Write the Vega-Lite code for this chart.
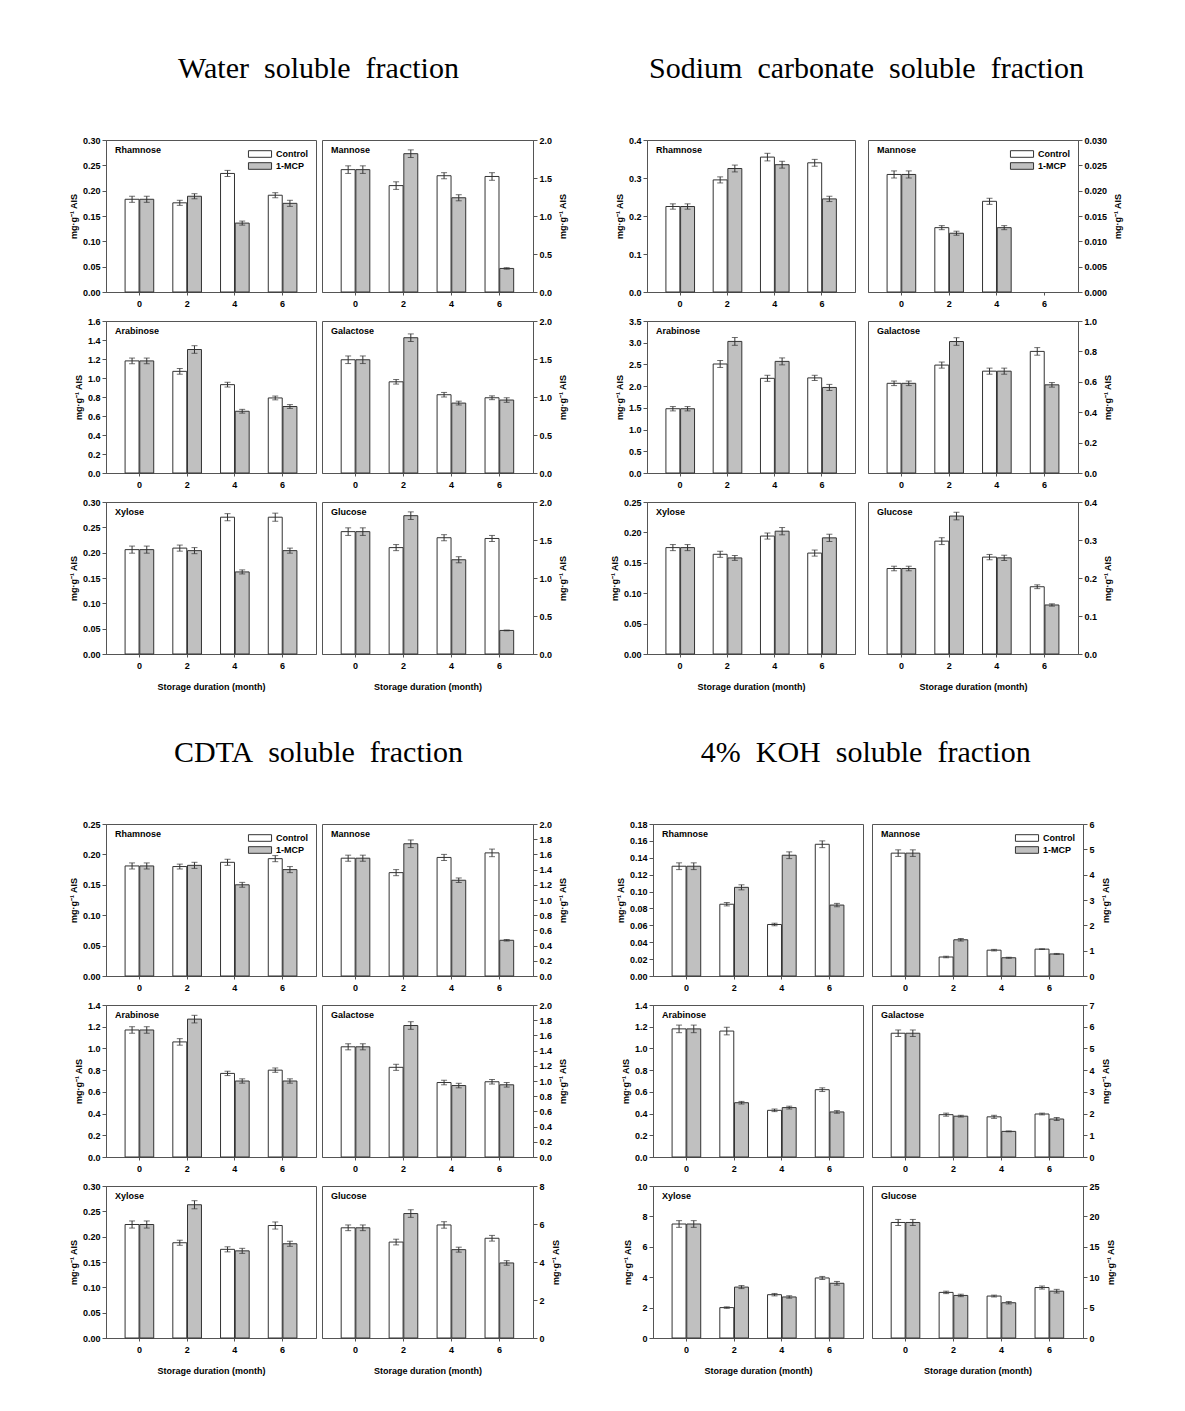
{
"$schema":"https://vega.github.io/schema/vega-lite/v6.json",
"background":"white",
"padding":{"left":68,"top":53,"right":5,"bottom":5},
"data":{"name":"d","values":[
{"f":"W","s":"Rhamnose","m":"0","t":"Control","v":0.183,"lo":0.177,"hi":0.189},
{"f":"W","s":"Rhamnose","m":"0","t":"1-MCP","v":0.183,"lo":0.177,"hi":0.189},
{"f":"W","s":"Rhamnose","m":"2","t":"Control","v":0.176,"lo":0.171,"hi":0.181},
{"f":"W","s":"Rhamnose","m":"2","t":"1-MCP","v":0.189,"lo":0.184,"hi":0.194},
{"f":"W","s":"Rhamnose","m":"4","t":"Control","v":0.234,"lo":0.228,"hi":0.240},
{"f":"W","s":"Rhamnose","m":"4","t":"1-MCP","v":0.136,"lo":0.132,"hi":0.140},
{"f":"W","s":"Rhamnose","m":"6","t":"Control","v":0.191,"lo":0.186,"hi":0.196},
{"f":"W","s":"Rhamnose","m":"6","t":"1-MCP","v":0.175,"lo":0.169,"hi":0.181},
{"f":"W","s":"Mannose","m":"0","t":"Control","v":1.61,"lo":1.56,"hi":1.66},
{"f":"W","s":"Mannose","m":"0","t":"1-MCP","v":1.61,"lo":1.56,"hi":1.66},
{"f":"W","s":"Mannose","m":"2","t":"Control","v":1.40,"lo":1.35,"hi":1.45},
{"f":"W","s":"Mannose","m":"2","t":"1-MCP","v":1.82,"lo":1.77,"hi":1.87},
{"f":"W","s":"Mannose","m":"4","t":"Control","v":1.53,"lo":1.49,"hi":1.57},
{"f":"W","s":"Mannose","m":"4","t":"1-MCP","v":1.24,"lo":1.20,"hi":1.28},
{"f":"W","s":"Mannose","m":"6","t":"Control","v":1.52,"lo":1.47,"hi":1.57},
{"f":"W","s":"Mannose","m":"6","t":"1-MCP","v":0.31,"lo":0.30,"hi":0.32},
{"f":"W","s":"Arabinose","m":"0","t":"Control","v":1.18,"lo":1.15,"hi":1.21},
{"f":"W","s":"Arabinose","m":"0","t":"1-MCP","v":1.18,"lo":1.15,"hi":1.21},
{"f":"W","s":"Arabinose","m":"2","t":"Control","v":1.07,"lo":1.04,"hi":1.10},
{"f":"W","s":"Arabinose","m":"2","t":"1-MCP","v":1.30,"lo":1.26,"hi":1.34},
{"f":"W","s":"Arabinose","m":"4","t":"Control","v":0.93,"lo":0.905,"hi":0.955},
{"f":"W","s":"Arabinose","m":"4","t":"1-MCP","v":0.65,"lo":0.63,"hi":0.67},
{"f":"W","s":"Arabinose","m":"6","t":"Control","v":0.79,"lo":0.77,"hi":0.81},
{"f":"W","s":"Arabinose","m":"6","t":"1-MCP","v":0.70,"lo":0.68,"hi":0.72},
{"f":"W","s":"Galactose","m":"0","t":"Control","v":1.49,"lo":1.44,"hi":1.54},
{"f":"W","s":"Galactose","m":"0","t":"1-MCP","v":1.49,"lo":1.44,"hi":1.54},
{"f":"W","s":"Galactose","m":"2","t":"Control","v":1.20,"lo":1.17,"hi":1.23},
{"f":"W","s":"Galactose","m":"2","t":"1-MCP","v":1.78,"lo":1.73,"hi":1.83},
{"f":"W","s":"Galactose","m":"4","t":"Control","v":1.03,"lo":1.00,"hi":1.06},
{"f":"W","s":"Galactose","m":"4","t":"1-MCP","v":0.92,"lo":0.895,"hi":0.945},
{"f":"W","s":"Galactose","m":"6","t":"Control","v":0.99,"lo":0.965,"hi":1.015},
{"f":"W","s":"Galactose","m":"6","t":"1-MCP","v":0.96,"lo":0.93,"hi":0.99},
{"f":"W","s":"Xylose","m":"0","t":"Control","v":0.206,"lo":0.199,"hi":0.213},
{"f":"W","s":"Xylose","m":"0","t":"1-MCP","v":0.206,"lo":0.199,"hi":0.213},
{"f":"W","s":"Xylose","m":"2","t":"Control","v":0.209,"lo":0.203,"hi":0.215},
{"f":"W","s":"Xylose","m":"2","t":"1-MCP","v":0.204,"lo":0.198,"hi":0.210},
{"f":"W","s":"Xylose","m":"4","t":"Control","v":0.270,"lo":0.263,"hi":0.277},
{"f":"W","s":"Xylose","m":"4","t":"1-MCP","v":0.162,"lo":0.158,"hi":0.166},
{"f":"W","s":"Xylose","m":"6","t":"Control","v":0.270,"lo":0.262,"hi":0.278},
{"f":"W","s":"Xylose","m":"6","t":"1-MCP","v":0.204,"lo":0.199,"hi":0.209},
{"f":"W","s":"Glucose","m":"0","t":"Control","v":1.61,"lo":1.56,"hi":1.66},
{"f":"W","s":"Glucose","m":"0","t":"1-MCP","v":1.61,"lo":1.56,"hi":1.66},
{"f":"W","s":"Glucose","m":"2","t":"Control","v":1.40,"lo":1.36,"hi":1.44},
{"f":"W","s":"Glucose","m":"2","t":"1-MCP","v":1.82,"lo":1.77,"hi":1.87},
{"f":"W","s":"Glucose","m":"4","t":"Control","v":1.53,"lo":1.49,"hi":1.57},
{"f":"W","s":"Glucose","m":"4","t":"1-MCP","v":1.24,"lo":1.20,"hi":1.28},
{"f":"W","s":"Glucose","m":"6","t":"Control","v":1.52,"lo":1.48,"hi":1.56},
{"f":"W","s":"Glucose","m":"6","t":"1-MCP","v":0.31,"lo":0.305,"hi":0.315},
{"f":"S","s":"Rhamnose","m":"0","t":"Control","v":0.225,"lo":0.218,"hi":0.232},
{"f":"S","s":"Rhamnose","m":"0","t":"1-MCP","v":0.225,"lo":0.218,"hi":0.232},
{"f":"S","s":"Rhamnose","m":"2","t":"Control","v":0.295,"lo":0.287,"hi":0.303},
{"f":"S","s":"Rhamnose","m":"2","t":"1-MCP","v":0.325,"lo":0.316,"hi":0.334},
{"f":"S","s":"Rhamnose","m":"4","t":"Control","v":0.355,"lo":0.345,"hi":0.365},
{"f":"S","s":"Rhamnose","m":"4","t":"1-MCP","v":0.335,"lo":0.326,"hi":0.344},
{"f":"S","s":"Rhamnose","m":"6","t":"Control","v":0.340,"lo":0.331,"hi":0.349},
{"f":"S","s":"Rhamnose","m":"6","t":"1-MCP","v":0.245,"lo":0.238,"hi":0.252},
{"f":"S","s":"Mannose","m":"0","t":"Control","v":0.0232,"lo":0.0225,"hi":0.0239},
{"f":"S","s":"Mannose","m":"0","t":"1-MCP","v":0.0232,"lo":0.0225,"hi":0.0239},
{"f":"S","s":"Mannose","m":"2","t":"Control","v":0.0127,"lo":0.0123,"hi":0.0131},
{"f":"S","s":"Mannose","m":"2","t":"1-MCP","v":0.0116,"lo":0.0112,"hi":0.0120},
{"f":"S","s":"Mannose","m":"4","t":"Control","v":0.0179,"lo":0.0173,"hi":0.0185},
{"f":"S","s":"Mannose","m":"4","t":"1-MCP","v":0.0127,"lo":0.0123,"hi":0.0131},
{"f":"S","s":"Arabinose","m":"0","t":"Control","v":1.48,"lo":1.43,"hi":1.53},
{"f":"S","s":"Arabinose","m":"0","t":"1-MCP","v":1.48,"lo":1.43,"hi":1.53},
{"f":"S","s":"Arabinose","m":"2","t":"Control","v":2.51,"lo":2.43,"hi":2.59},
{"f":"S","s":"Arabinose","m":"2","t":"1-MCP","v":3.03,"lo":2.94,"hi":3.12},
{"f":"S","s":"Arabinose","m":"4","t":"Control","v":2.18,"lo":2.11,"hi":2.25},
{"f":"S","s":"Arabinose","m":"4","t":"1-MCP","v":2.57,"lo":2.49,"hi":2.65},
{"f":"S","s":"Arabinose","m":"6","t":"Control","v":2.19,"lo":2.13,"hi":2.25},
{"f":"S","s":"Arabinose","m":"6","t":"1-MCP","v":1.97,"lo":1.90,"hi":2.04},
{"f":"S","s":"Galactose","m":"0","t":"Control","v":0.59,"lo":0.575,"hi":0.605},
{"f":"S","s":"Galactose","m":"0","t":"1-MCP","v":0.59,"lo":0.575,"hi":0.605},
{"f":"S","s":"Galactose","m":"2","t":"Control","v":0.71,"lo":0.69,"hi":0.73},
{"f":"S","s":"Galactose","m":"2","t":"1-MCP","v":0.865,"lo":0.84,"hi":0.89},
{"f":"S","s":"Galactose","m":"4","t":"Control","v":0.67,"lo":0.65,"hi":0.69},
{"f":"S","s":"Galactose","m":"4","t":"1-MCP","v":0.67,"lo":0.65,"hi":0.69},
{"f":"S","s":"Galactose","m":"6","t":"Control","v":0.80,"lo":0.775,"hi":0.825},
{"f":"S","s":"Galactose","m":"6","t":"1-MCP","v":0.58,"lo":0.565,"hi":0.595},
{"f":"S","s":"Xylose","m":"0","t":"Control","v":0.175,"lo":0.170,"hi":0.180},
{"f":"S","s":"Xylose","m":"0","t":"1-MCP","v":0.175,"lo":0.170,"hi":0.180},
{"f":"S","s":"Xylose","m":"2","t":"Control","v":0.164,"lo":0.159,"hi":0.169},
{"f":"S","s":"Xylose","m":"2","t":"1-MCP","v":0.158,"lo":0.154,"hi":0.162},
{"f":"S","s":"Xylose","m":"4","t":"Control","v":0.194,"lo":0.189,"hi":0.199},
{"f":"S","s":"Xylose","m":"4","t":"1-MCP","v":0.202,"lo":0.196,"hi":0.208},
{"f":"S","s":"Xylose","m":"6","t":"Control","v":0.166,"lo":0.161,"hi":0.171},
{"f":"S","s":"Xylose","m":"6","t":"1-MCP","v":0.191,"lo":0.185,"hi":0.197},
{"f":"S","s":"Glucose","m":"0","t":"Control","v":0.225,"lo":0.219,"hi":0.231},
{"f":"S","s":"Glucose","m":"0","t":"1-MCP","v":0.225,"lo":0.219,"hi":0.231},
{"f":"S","s":"Glucose","m":"2","t":"Control","v":0.297,"lo":0.288,"hi":0.306},
{"f":"S","s":"Glucose","m":"2","t":"1-MCP","v":0.363,"lo":0.353,"hi":0.373},
{"f":"S","s":"Glucose","m":"4","t":"Control","v":0.255,"lo":0.248,"hi":0.262},
{"f":"S","s":"Glucose","m":"4","t":"1-MCP","v":0.253,"lo":0.246,"hi":0.260},
{"f":"S","s":"Glucose","m":"6","t":"Control","v":0.177,"lo":0.172,"hi":0.182},
{"f":"S","s":"Glucose","m":"6","t":"1-MCP","v":0.129,"lo":0.126,"hi":0.132},
{"f":"C","s":"Rhamnose","m":"0","t":"Control","v":0.181,"lo":0.176,"hi":0.186},
{"f":"C","s":"Rhamnose","m":"0","t":"1-MCP","v":0.181,"lo":0.176,"hi":0.186},
{"f":"C","s":"Rhamnose","m":"2","t":"Control","v":0.180,"lo":0.176,"hi":0.184},
{"f":"C","s":"Rhamnose","m":"2","t":"1-MCP","v":0.182,"lo":0.177,"hi":0.187},
{"f":"C","s":"Rhamnose","m":"4","t":"Control","v":0.187,"lo":0.182,"hi":0.192},
{"f":"C","s":"Rhamnose","m":"4","t":"1-MCP","v":0.150,"lo":0.146,"hi":0.154},
{"f":"C","s":"Rhamnose","m":"6","t":"Control","v":0.193,"lo":0.188,"hi":0.198},
{"f":"C","s":"Rhamnose","m":"6","t":"1-MCP","v":0.175,"lo":0.170,"hi":0.180},
{"f":"C","s":"Mannose","m":"0","t":"Control","v":1.55,"lo":1.51,"hi":1.59},
{"f":"C","s":"Mannose","m":"0","t":"1-MCP","v":1.55,"lo":1.51,"hi":1.59},
{"f":"C","s":"Mannose","m":"2","t":"Control","v":1.36,"lo":1.32,"hi":1.40},
{"f":"C","s":"Mannose","m":"2","t":"1-MCP","v":1.74,"lo":1.69,"hi":1.79},
{"f":"C","s":"Mannose","m":"4","t":"Control","v":1.56,"lo":1.52,"hi":1.60},
{"f":"C","s":"Mannose","m":"4","t":"1-MCP","v":1.26,"lo":1.23,"hi":1.29},
{"f":"C","s":"Mannose","m":"6","t":"Control","v":1.62,"lo":1.57,"hi":1.67},
{"f":"C","s":"Mannose","m":"6","t":"1-MCP","v":0.47,"lo":0.46,"hi":0.48},
{"f":"C","s":"Arabinose","m":"0","t":"Control","v":1.17,"lo":1.14,"hi":1.20},
{"f":"C","s":"Arabinose","m":"0","t":"1-MCP","v":1.17,"lo":1.14,"hi":1.20},
{"f":"C","s":"Arabinose","m":"2","t":"Control","v":1.06,"lo":1.03,"hi":1.09},
{"f":"C","s":"Arabinose","m":"2","t":"1-MCP","v":1.27,"lo":1.235,"hi":1.305},
{"f":"C","s":"Arabinose","m":"4","t":"Control","v":0.77,"lo":0.75,"hi":0.79},
{"f":"C","s":"Arabinose","m":"4","t":"1-MCP","v":0.70,"lo":0.68,"hi":0.72},
{"f":"C","s":"Arabinose","m":"6","t":"Control","v":0.80,"lo":0.78,"hi":0.82},
{"f":"C","s":"Arabinose","m":"6","t":"1-MCP","v":0.70,"lo":0.68,"hi":0.72},
{"f":"C","s":"Galactose","m":"0","t":"Control","v":1.45,"lo":1.41,"hi":1.49},
{"f":"C","s":"Galactose","m":"0","t":"1-MCP","v":1.45,"lo":1.41,"hi":1.49},
{"f":"C","s":"Galactose","m":"2","t":"Control","v":1.18,"lo":1.14,"hi":1.22},
{"f":"C","s":"Galactose","m":"2","t":"1-MCP","v":1.73,"lo":1.68,"hi":1.78},
{"f":"C","s":"Galactose","m":"4","t":"Control","v":0.98,"lo":0.95,"hi":1.01},
{"f":"C","s":"Galactose","m":"4","t":"1-MCP","v":0.94,"lo":0.91,"hi":0.97},
{"f":"C","s":"Galactose","m":"6","t":"Control","v":0.99,"lo":0.96,"hi":1.02},
{"f":"C","s":"Galactose","m":"6","t":"1-MCP","v":0.95,"lo":0.92,"hi":0.98},
{"f":"C","s":"Xylose","m":"0","t":"Control","v":0.224,"lo":0.217,"hi":0.231},
{"f":"C","s":"Xylose","m":"0","t":"1-MCP","v":0.224,"lo":0.217,"hi":0.231},
{"f":"C","s":"Xylose","m":"2","t":"Control","v":0.188,"lo":0.183,"hi":0.193},
{"f":"C","s":"Xylose","m":"2","t":"1-MCP","v":0.263,"lo":0.255,"hi":0.271},
{"f":"C","s":"Xylose","m":"4","t":"Control","v":0.175,"lo":0.170,"hi":0.180},
{"f":"C","s":"Xylose","m":"4","t":"1-MCP","v":0.172,"lo":0.167,"hi":0.177},
{"f":"C","s":"Xylose","m":"6","t":"Control","v":0.222,"lo":0.215,"hi":0.229},
{"f":"C","s":"Xylose","m":"6","t":"1-MCP","v":0.186,"lo":0.181,"hi":0.191},
{"f":"C","s":"Glucose","m":"0","t":"Control","v":5.8,"lo":5.65,"hi":5.95},
{"f":"C","s":"Glucose","m":"0","t":"1-MCP","v":5.8,"lo":5.65,"hi":5.95},
{"f":"C","s":"Glucose","m":"2","t":"Control","v":5.05,"lo":4.9,"hi":5.2},
{"f":"C","s":"Glucose","m":"2","t":"1-MCP","v":6.55,"lo":6.35,"hi":6.75},
{"f":"C","s":"Glucose","m":"4","t":"Control","v":5.95,"lo":5.78,"hi":6.12},
{"f":"C","s":"Glucose","m":"4","t":"1-MCP","v":4.65,"lo":4.52,"hi":4.78},
{"f":"C","s":"Glucose","m":"6","t":"Control","v":5.25,"lo":5.1,"hi":5.4},
{"f":"C","s":"Glucose","m":"6","t":"1-MCP","v":3.95,"lo":3.83,"hi":4.07},
{"f":"K","s":"Rhamnose","m":"0","t":"Control","v":0.130,"lo":0.126,"hi":0.134},
{"f":"K","s":"Rhamnose","m":"0","t":"1-MCP","v":0.130,"lo":0.126,"hi":0.134},
{"f":"K","s":"Rhamnose","m":"2","t":"Control","v":0.085,"lo":0.083,"hi":0.087},
{"f":"K","s":"Rhamnose","m":"2","t":"1-MCP","v":0.105,"lo":0.102,"hi":0.108},
{"f":"K","s":"Rhamnose","m":"4","t":"Control","v":0.061,"lo":0.0595,"hi":0.0625},
{"f":"K","s":"Rhamnose","m":"4","t":"1-MCP","v":0.143,"lo":0.139,"hi":0.147},
{"f":"K","s":"Rhamnose","m":"6","t":"Control","v":0.156,"lo":0.152,"hi":0.160},
{"f":"K","s":"Rhamnose","m":"6","t":"1-MCP","v":0.084,"lo":0.082,"hi":0.086},
{"f":"K","s":"Mannose","m":"0","t":"Control","v":4.85,"lo":4.72,"hi":4.98},
{"f":"K","s":"Mannose","m":"0","t":"1-MCP","v":4.85,"lo":4.72,"hi":4.98},
{"f":"K","s":"Mannose","m":"2","t":"Control","v":0.75,"lo":0.72,"hi":0.78},
{"f":"K","s":"Mannose","m":"2","t":"1-MCP","v":1.43,"lo":1.38,"hi":1.48},
{"f":"K","s":"Mannose","m":"4","t":"Control","v":1.02,"lo":0.99,"hi":1.05},
{"f":"K","s":"Mannose","m":"4","t":"1-MCP","v":0.72,"lo":0.70,"hi":0.74},
{"f":"K","s":"Mannose","m":"6","t":"Control","v":1.06,"lo":1.045,"hi":1.075},
{"f":"K","s":"Mannose","m":"6","t":"1-MCP","v":0.87,"lo":0.85,"hi":0.89},
{"f":"K","s":"Arabinose","m":"0","t":"Control","v":1.18,"lo":1.145,"hi":1.215},
{"f":"K","s":"Arabinose","m":"0","t":"1-MCP","v":1.18,"lo":1.145,"hi":1.215},
{"f":"K","s":"Arabinose","m":"2","t":"Control","v":1.16,"lo":1.125,"hi":1.195},
{"f":"K","s":"Arabinose","m":"2","t":"1-MCP","v":0.50,"lo":0.488,"hi":0.512},
{"f":"K","s":"Arabinose","m":"4","t":"Control","v":0.43,"lo":0.418,"hi":0.442},
{"f":"K","s":"Arabinose","m":"4","t":"1-MCP","v":0.455,"lo":0.442,"hi":0.468},
{"f":"K","s":"Arabinose","m":"6","t":"Control","v":0.62,"lo":0.603,"hi":0.637},
{"f":"K","s":"Arabinose","m":"6","t":"1-MCP","v":0.415,"lo":0.403,"hi":0.427},
{"f":"K","s":"Galactose","m":"0","t":"Control","v":5.7,"lo":5.55,"hi":5.85},
{"f":"K","s":"Galactose","m":"0","t":"1-MCP","v":5.7,"lo":5.55,"hi":5.85},
{"f":"K","s":"Galactose","m":"2","t":"Control","v":1.95,"lo":1.88,"hi":2.02},
{"f":"K","s":"Galactose","m":"2","t":"1-MCP","v":1.88,"lo":1.84,"hi":1.92},
{"f":"K","s":"Galactose","m":"4","t":"Control","v":1.85,"lo":1.78,"hi":1.92},
{"f":"K","s":"Galactose","m":"4","t":"1-MCP","v":1.18,"lo":1.16,"hi":1.20},
{"f":"K","s":"Galactose","m":"6","t":"Control","v":1.98,"lo":1.94,"hi":2.02},
{"f":"K","s":"Galactose","m":"6","t":"1-MCP","v":1.75,"lo":1.68,"hi":1.82},
{"f":"K","s":"Xylose","m":"0","t":"Control","v":7.5,"lo":7.28,"hi":7.72},
{"f":"K","s":"Xylose","m":"0","t":"1-MCP","v":7.5,"lo":7.28,"hi":7.72},
{"f":"K","s":"Xylose","m":"2","t":"Control","v":2.0,"lo":1.95,"hi":2.05},
{"f":"K","s":"Xylose","m":"2","t":"1-MCP","v":3.35,"lo":3.25,"hi":3.45},
{"f":"K","s":"Xylose","m":"4","t":"Control","v":2.85,"lo":2.77,"hi":2.93},
{"f":"K","s":"Xylose","m":"4","t":"1-MCP","v":2.7,"lo":2.62,"hi":2.78},
{"f":"K","s":"Xylose","m":"6","t":"Control","v":3.95,"lo":3.85,"hi":4.05},
{"f":"K","s":"Xylose","m":"6","t":"1-MCP","v":3.6,"lo":3.48,"hi":3.72},
{"f":"K","s":"Glucose","m":"0","t":"Control","v":19.0,"lo":18.5,"hi":19.5},
{"f":"K","s":"Glucose","m":"0","t":"1-MCP","v":19.0,"lo":18.5,"hi":19.5},
{"f":"K","s":"Glucose","m":"2","t":"Control","v":7.5,"lo":7.3,"hi":7.7},
{"f":"K","s":"Glucose","m":"2","t":"1-MCP","v":7.0,"lo":6.8,"hi":7.2},
{"f":"K","s":"Glucose","m":"4","t":"Control","v":6.9,"lo":6.75,"hi":7.05},
{"f":"K","s":"Glucose","m":"4","t":"1-MCP","v":5.8,"lo":5.6,"hi":6.0},
{"f":"K","s":"Glucose","m":"6","t":"Control","v":8.3,"lo":8.05,"hi":8.55},
{"f":"K","s":"Glucose","m":"6","t":"1-MCP","v":7.7,"lo":7.4,"hi":8.0}
]},
"spacing":45,
"resolve":{"scale":{"fill":"independent"},"legend":{"fill":"independent"}},
"vconcat":[
{"hconcat":[
{"title":{"text":"Water\u00a0 soluble\u00a0 fraction","anchor":"middle","frame":"bounds","offset":28,"dx":0,"baseline":"alphabetic","font":"Liberation Serif","fontSize":30,"fontWeight":"normal","color":"#000"},
"spacing":7,"resolve":{"scale":{"fill":"independent"},"legend":{"fill":"independent"}},
"vconcat":[
{"hconcat":[
{"width":210,"height":152,"title":"Rhamnose","transform":[{"filter":"datum.f=='W'&&datum.s=='Rhamnose'"}],
"encoding":{"x":{"field":"m","type":"ordinal","scale":{"domain":["0","2","4","6"],"paddingInner":0.4,"paddingOuter":0.4},"axis":{"title":null}},"xOffset":{"field":"t","type":"nominal","scale":{"domain":["Control","1-MCP"],"paddingInner":0.05}}},
"layer":[
{"mark":"bar","encoding":{"y":{"field":"v","type":"quantitative","scale":{"domain":[0,0.3],"nice":false},"axis":{"orient":"left","tickCount":6,"format":".2f","title":"mg·g⁻¹ AIS"}},"fill":{"field":"t","type":"nominal","scale":{"domain":["Control","1-MCP"],"range":["#ffffff","#c0c0c0"]},"legend":{"title":null,"orient":"top-right"}}}},
{"mark":"rule","encoding":{"y":{"field":"lo","type":"quantitative","scale":{"domain":[0,0.3],"nice":false}},"y2":{"field":"hi"}}},
{"mark":"tick","encoding":{"y":{"field":"lo","type":"quantitative","scale":{"domain":[0,0.3],"nice":false}}}},
{"mark":"tick","encoding":{"y":{"field":"hi","type":"quantitative","scale":{"domain":[0,0.3],"nice":false}}}}]},
{"width":211,"height":152,"title":"Mannose","transform":[{"filter":"datum.f=='W'&&datum.s=='Mannose'"}],
"encoding":{"x":{"field":"m","type":"ordinal","scale":{"domain":["0","2","4","6"],"paddingInner":0.4,"paddingOuter":0.4},"axis":{"title":null}},"xOffset":{"field":"t","type":"nominal","scale":{"domain":["Control","1-MCP"],"paddingInner":0.05}}},
"layer":[
{"mark":"bar","encoding":{"y":{"field":"v","type":"quantitative","scale":{"domain":[0,2],"nice":false},"axis":{"orient":"right","tickCount":4,"format":".1f","title":"mg·g⁻¹ AIS","titleAngle":270,"titleBaseline":"top"}},"fill":{"field":"t","type":"nominal","scale":{"domain":["Control","1-MCP"],"range":["#ffffff","#c0c0c0"]},"legend":null}}},
{"mark":"rule","encoding":{"y":{"field":"lo","type":"quantitative","scale":{"domain":[0,2],"nice":false}},"y2":{"field":"hi"}}},
{"mark":"tick","encoding":{"y":{"field":"lo","type":"quantitative","scale":{"domain":[0,2],"nice":false}}}},
{"mark":"tick","encoding":{"y":{"field":"hi","type":"quantitative","scale":{"domain":[0,2],"nice":false}}}}]}
],"spacing":4,"resolve":{"scale":{"fill":"independent"},"legend":{"fill":"independent"}}},
{"hconcat":[
{"width":210,"height":152,"title":"Arabinose","transform":[{"filter":"datum.f=='W'&&datum.s=='Arabinose'"}],
"encoding":{"x":{"field":"m","type":"ordinal","scale":{"domain":["0","2","4","6"],"paddingInner":0.4,"paddingOuter":0.4},"axis":{"title":null}},"xOffset":{"field":"t","type":"nominal","scale":{"domain":["Control","1-MCP"],"paddingInner":0.05}}},
"layer":[
{"mark":"bar","encoding":{"y":{"field":"v","type":"quantitative","scale":{"domain":[0,1.6],"nice":false},"axis":{"orient":"left","tickCount":8,"format":".1f","title":"mg·g⁻¹ AIS"}},"fill":{"field":"t","type":"nominal","scale":{"domain":["Control","1-MCP"],"range":["#ffffff","#c0c0c0"]},"legend":null}}},
{"mark":"rule","encoding":{"y":{"field":"lo","type":"quantitative","scale":{"domain":[0,1.6],"nice":false}},"y2":{"field":"hi"}}},
{"mark":"tick","encoding":{"y":{"field":"lo","type":"quantitative","scale":{"domain":[0,1.6],"nice":false}}}},
{"mark":"tick","encoding":{"y":{"field":"hi","type":"quantitative","scale":{"domain":[0,1.6],"nice":false}}}}]},
{"width":211,"height":152,"title":"Galactose","transform":[{"filter":"datum.f=='W'&&datum.s=='Galactose'"}],
"encoding":{"x":{"field":"m","type":"ordinal","scale":{"domain":["0","2","4","6"],"paddingInner":0.4,"paddingOuter":0.4},"axis":{"title":null}},"xOffset":{"field":"t","type":"nominal","scale":{"domain":["Control","1-MCP"],"paddingInner":0.05}}},
"layer":[
{"mark":"bar","encoding":{"y":{"field":"v","type":"quantitative","scale":{"domain":[0,2],"nice":false},"axis":{"orient":"right","tickCount":4,"format":".1f","title":"mg·g⁻¹ AIS","titleAngle":270,"titleBaseline":"top"}},"fill":{"field":"t","type":"nominal","scale":{"domain":["Control","1-MCP"],"range":["#ffffff","#c0c0c0"]},"legend":null}}},
{"mark":"rule","encoding":{"y":{"field":"lo","type":"quantitative","scale":{"domain":[0,2],"nice":false}},"y2":{"field":"hi"}}},
{"mark":"tick","encoding":{"y":{"field":"lo","type":"quantitative","scale":{"domain":[0,2],"nice":false}}}},
{"mark":"tick","encoding":{"y":{"field":"hi","type":"quantitative","scale":{"domain":[0,2],"nice":false}}}}]}
],"spacing":4,"resolve":{"scale":{"fill":"independent"},"legend":{"fill":"independent"}}},
{"hconcat":[
{"width":210,"height":152,"title":"Xylose","transform":[{"filter":"datum.f=='W'&&datum.s=='Xylose'"}],
"encoding":{"x":{"field":"m","type":"ordinal","scale":{"domain":["0","2","4","6"],"paddingInner":0.4,"paddingOuter":0.4},"axis":{"title":"Storage duration (month)"}},"xOffset":{"field":"t","type":"nominal","scale":{"domain":["Control","1-MCP"],"paddingInner":0.05}}},
"layer":[
{"mark":"bar","encoding":{"y":{"field":"v","type":"quantitative","scale":{"domain":[0,0.3],"nice":false},"axis":{"orient":"left","tickCount":6,"format":".2f","title":"mg·g⁻¹ AIS"}},"fill":{"field":"t","type":"nominal","scale":{"domain":["Control","1-MCP"],"range":["#ffffff","#c0c0c0"]},"legend":null}}},
{"mark":"rule","encoding":{"y":{"field":"lo","type":"quantitative","scale":{"domain":[0,0.3],"nice":false}},"y2":{"field":"hi"}}},
{"mark":"tick","encoding":{"y":{"field":"lo","type":"quantitative","scale":{"domain":[0,0.3],"nice":false}}}},
{"mark":"tick","encoding":{"y":{"field":"hi","type":"quantitative","scale":{"domain":[0,0.3],"nice":false}}}}]},
{"width":211,"height":152,"title":"Glucose","transform":[{"filter":"datum.f=='W'&&datum.s=='Glucose'"}],
"encoding":{"x":{"field":"m","type":"ordinal","scale":{"domain":["0","2","4","6"],"paddingInner":0.4,"paddingOuter":0.4},"axis":{"title":"Storage duration (month)"}},"xOffset":{"field":"t","type":"nominal","scale":{"domain":["Control","1-MCP"],"paddingInner":0.05}}},
"layer":[
{"mark":"bar","encoding":{"y":{"field":"v","type":"quantitative","scale":{"domain":[0,2],"nice":false},"axis":{"orient":"right","tickCount":4,"format":".1f","title":"mg·g⁻¹ AIS","titleAngle":270,"titleBaseline":"top"}},"fill":{"field":"t","type":"nominal","scale":{"domain":["Control","1-MCP"],"range":["#ffffff","#c0c0c0"]},"legend":null}}},
{"mark":"rule","encoding":{"y":{"field":"lo","type":"quantitative","scale":{"domain":[0,2],"nice":false}},"y2":{"field":"hi"}}},
{"mark":"tick","encoding":{"y":{"field":"lo","type":"quantitative","scale":{"domain":[0,2],"nice":false}}}},
{"mark":"tick","encoding":{"y":{"field":"hi","type":"quantitative","scale":{"domain":[0,2],"nice":false}}}}]}
],"spacing":4,"resolve":{"scale":{"fill":"independent"},"legend":{"fill":"independent"}}}
]},
{"title":{"text":"Sodium\u00a0 carbonate\u00a0 soluble\u00a0 fraction","anchor":"middle","frame":"bounds","offset":28,"dx":0,"baseline":"alphabetic","font":"Liberation Serif","fontSize":30,"fontWeight":"normal","color":"#000"},
"spacing":7,"resolve":{"scale":{"fill":"independent"},"legend":{"fill":"independent"}},
"vconcat":[
{"hconcat":[
{"width":208,"height":152,"title":"Rhamnose","transform":[{"filter":"datum.f=='S'&&datum.s=='Rhamnose'"}],
"encoding":{"x":{"field":"m","type":"ordinal","scale":{"domain":["0","2","4","6"],"paddingInner":0.4,"paddingOuter":0.4},"axis":{"title":null}},"xOffset":{"field":"t","type":"nominal","scale":{"domain":["Control","1-MCP"],"paddingInner":0.05}}},
"layer":[
{"mark":"bar","encoding":{"y":{"field":"v","type":"quantitative","scale":{"domain":[0,0.4],"nice":false},"axis":{"orient":"left","tickCount":4,"format":".1f","title":"mg·g⁻¹ AIS"}},"fill":{"field":"t","type":"nominal","scale":{"domain":["Control","1-MCP"],"range":["#ffffff","#c0c0c0"]},"legend":null}}},
{"mark":"rule","encoding":{"y":{"field":"lo","type":"quantitative","scale":{"domain":[0,0.4],"nice":false}},"y2":{"field":"hi"}}},
{"mark":"tick","encoding":{"y":{"field":"lo","type":"quantitative","scale":{"domain":[0,0.4],"nice":false}}}},
{"mark":"tick","encoding":{"y":{"field":"hi","type":"quantitative","scale":{"domain":[0,0.4],"nice":false}}}}]},
{"width":210,"height":152,"title":"Mannose","transform":[{"filter":"datum.f=='S'&&datum.s=='Mannose'"}],
"encoding":{"x":{"field":"m","type":"ordinal","scale":{"domain":["0","2","4","6"],"paddingInner":0.4,"paddingOuter":0.4},"axis":{"title":null}},"xOffset":{"field":"t","type":"nominal","scale":{"domain":["Control","1-MCP"],"paddingInner":0.05}}},
"layer":[
{"mark":"bar","encoding":{"y":{"field":"v","type":"quantitative","scale":{"domain":[0,0.03],"nice":false},"axis":{"orient":"right","tickCount":6,"format":".3f","title":"mg·g⁻¹ AIS","titleAngle":270,"titleBaseline":"top"}},"fill":{"field":"t","type":"nominal","scale":{"domain":["Control","1-MCP"],"range":["#ffffff","#c0c0c0"]},"legend":{"title":null,"orient":"top-right"}}}},
{"mark":"rule","encoding":{"y":{"field":"lo","type":"quantitative","scale":{"domain":[0,0.03],"nice":false}},"y2":{"field":"hi"}}},
{"mark":"tick","encoding":{"y":{"field":"lo","type":"quantitative","scale":{"domain":[0,0.03],"nice":false}}}},
{"mark":"tick","encoding":{"y":{"field":"hi","type":"quantitative","scale":{"domain":[0,0.03],"nice":false}}}}]}
],"spacing":11,"resolve":{"scale":{"fill":"independent"},"legend":{"fill":"independent"}}},
{"hconcat":[
{"width":208,"height":152,"title":"Arabinose","transform":[{"filter":"datum.f=='S'&&datum.s=='Arabinose'"}],
"encoding":{"x":{"field":"m","type":"ordinal","scale":{"domain":["0","2","4","6"],"paddingInner":0.4,"paddingOuter":0.4},"axis":{"title":null}},"xOffset":{"field":"t","type":"nominal","scale":{"domain":["Control","1-MCP"],"paddingInner":0.05}}},
"layer":[
{"mark":"bar","encoding":{"y":{"field":"v","type":"quantitative","scale":{"domain":[0,3.5],"nice":false},"axis":{"orient":"left","tickCount":7,"format":".1f","title":"mg·g⁻¹ AIS"}},"fill":{"field":"t","type":"nominal","scale":{"domain":["Control","1-MCP"],"range":["#ffffff","#c0c0c0"]},"legend":null}}},
{"mark":"rule","encoding":{"y":{"field":"lo","type":"quantitative","scale":{"domain":[0,3.5],"nice":false}},"y2":{"field":"hi"}}},
{"mark":"tick","encoding":{"y":{"field":"lo","type":"quantitative","scale":{"domain":[0,3.5],"nice":false}}}},
{"mark":"tick","encoding":{"y":{"field":"hi","type":"quantitative","scale":{"domain":[0,3.5],"nice":false}}}}]},
{"width":210,"height":152,"title":"Galactose","transform":[{"filter":"datum.f=='S'&&datum.s=='Galactose'"}],
"encoding":{"x":{"field":"m","type":"ordinal","scale":{"domain":["0","2","4","6"],"paddingInner":0.4,"paddingOuter":0.4},"axis":{"title":null}},"xOffset":{"field":"t","type":"nominal","scale":{"domain":["Control","1-MCP"],"paddingInner":0.05}}},
"layer":[
{"mark":"bar","encoding":{"y":{"field":"v","type":"quantitative","scale":{"domain":[0,1],"nice":false},"axis":{"orient":"right","tickCount":5,"format":".1f","title":"mg·g⁻¹ AIS","titleAngle":270,"titleBaseline":"top"}},"fill":{"field":"t","type":"nominal","scale":{"domain":["Control","1-MCP"],"range":["#ffffff","#c0c0c0"]},"legend":null}}},
{"mark":"rule","encoding":{"y":{"field":"lo","type":"quantitative","scale":{"domain":[0,1],"nice":false}},"y2":{"field":"hi"}}},
{"mark":"tick","encoding":{"y":{"field":"lo","type":"quantitative","scale":{"domain":[0,1],"nice":false}}}},
{"mark":"tick","encoding":{"y":{"field":"hi","type":"quantitative","scale":{"domain":[0,1],"nice":false}}}}]}
],"spacing":11,"resolve":{"scale":{"fill":"independent"},"legend":{"fill":"independent"}}},
{"hconcat":[
{"width":208,"height":152,"title":"Xylose","transform":[{"filter":"datum.f=='S'&&datum.s=='Xylose'"}],
"encoding":{"x":{"field":"m","type":"ordinal","scale":{"domain":["0","2","4","6"],"paddingInner":0.4,"paddingOuter":0.4},"axis":{"title":"Storage duration (month)"}},"xOffset":{"field":"t","type":"nominal","scale":{"domain":["Control","1-MCP"],"paddingInner":0.05}}},
"layer":[
{"mark":"bar","encoding":{"y":{"field":"v","type":"quantitative","scale":{"domain":[0,0.25],"nice":false},"axis":{"orient":"left","tickCount":5,"format":".2f","title":"mg·g⁻¹ AIS"}},"fill":{"field":"t","type":"nominal","scale":{"domain":["Control","1-MCP"],"range":["#ffffff","#c0c0c0"]},"legend":null}}},
{"mark":"rule","encoding":{"y":{"field":"lo","type":"quantitative","scale":{"domain":[0,0.25],"nice":false}},"y2":{"field":"hi"}}},
{"mark":"tick","encoding":{"y":{"field":"lo","type":"quantitative","scale":{"domain":[0,0.25],"nice":false}}}},
{"mark":"tick","encoding":{"y":{"field":"hi","type":"quantitative","scale":{"domain":[0,0.25],"nice":false}}}}]},
{"width":210,"height":152,"title":"Glucose","transform":[{"filter":"datum.f=='S'&&datum.s=='Glucose'"}],
"encoding":{"x":{"field":"m","type":"ordinal","scale":{"domain":["0","2","4","6"],"paddingInner":0.4,"paddingOuter":0.4},"axis":{"title":"Storage duration (month)"}},"xOffset":{"field":"t","type":"nominal","scale":{"domain":["Control","1-MCP"],"paddingInner":0.05}}},
"layer":[
{"mark":"bar","encoding":{"y":{"field":"v","type":"quantitative","scale":{"domain":[0,0.4],"nice":false},"axis":{"orient":"right","tickCount":4,"format":".1f","title":"mg·g⁻¹ AIS","titleAngle":270,"titleBaseline":"top"}},"fill":{"field":"t","type":"nominal","scale":{"domain":["Control","1-MCP"],"range":["#ffffff","#c0c0c0"]},"legend":null}}},
{"mark":"rule","encoding":{"y":{"field":"lo","type":"quantitative","scale":{"domain":[0,0.4],"nice":false}},"y2":{"field":"hi"}}},
{"mark":"tick","encoding":{"y":{"field":"lo","type":"quantitative","scale":{"domain":[0,0.4],"nice":false}}}},
{"mark":"tick","encoding":{"y":{"field":"hi","type":"quantitative","scale":{"domain":[0,0.4],"nice":false}}}}]}
],"spacing":11,"resolve":{"scale":{"fill":"independent"},"legend":{"fill":"independent"}}}
]}
],"spacing":40,"resolve":{"scale":{"fill":"independent"},"legend":{"fill":"independent"}}},
{"hconcat":[
{"title":{"text":"CDTA\u00a0 soluble\u00a0 fraction","anchor":"middle","frame":"bounds","offset":28,"dx":0,"baseline":"alphabetic","font":"Liberation Serif","fontSize":30,"fontWeight":"normal","color":"#000"},
"spacing":7,"resolve":{"scale":{"fill":"independent"},"legend":{"fill":"independent"}},
"vconcat":[
{"hconcat":[
{"width":210,"height":152,"title":"Rhamnose","transform":[{"filter":"datum.f=='C'&&datum.s=='Rhamnose'"}],
"encoding":{"x":{"field":"m","type":"ordinal","scale":{"domain":["0","2","4","6"],"paddingInner":0.4,"paddingOuter":0.4},"axis":{"title":null}},"xOffset":{"field":"t","type":"nominal","scale":{"domain":["Control","1-MCP"],"paddingInner":0.05}}},
"layer":[
{"mark":"bar","encoding":{"y":{"field":"v","type":"quantitative","scale":{"domain":[0,0.25],"nice":false},"axis":{"orient":"left","tickCount":5,"format":".2f","title":"mg·g⁻¹ AIS"}},"fill":{"field":"t","type":"nominal","scale":{"domain":["Control","1-MCP"],"range":["#ffffff","#c0c0c0"]},"legend":{"title":null,"orient":"top-right"}}}},
{"mark":"rule","encoding":{"y":{"field":"lo","type":"quantitative","scale":{"domain":[0,0.25],"nice":false}},"y2":{"field":"hi"}}},
{"mark":"tick","encoding":{"y":{"field":"lo","type":"quantitative","scale":{"domain":[0,0.25],"nice":false}}}},
{"mark":"tick","encoding":{"y":{"field":"hi","type":"quantitative","scale":{"domain":[0,0.25],"nice":false}}}}]},
{"width":211,"height":152,"title":"Mannose","transform":[{"filter":"datum.f=='C'&&datum.s=='Mannose'"}],
"encoding":{"x":{"field":"m","type":"ordinal","scale":{"domain":["0","2","4","6"],"paddingInner":0.4,"paddingOuter":0.4},"axis":{"title":null}},"xOffset":{"field":"t","type":"nominal","scale":{"domain":["Control","1-MCP"],"paddingInner":0.05}}},
"layer":[
{"mark":"bar","encoding":{"y":{"field":"v","type":"quantitative","scale":{"domain":[0,2],"nice":false},"axis":{"orient":"right","tickCount":10,"format":".1f","title":"mg·g⁻¹ AIS","titleAngle":270,"titleBaseline":"top"}},"fill":{"field":"t","type":"nominal","scale":{"domain":["Control","1-MCP"],"range":["#ffffff","#c0c0c0"]},"legend":null}}},
{"mark":"rule","encoding":{"y":{"field":"lo","type":"quantitative","scale":{"domain":[0,2],"nice":false}},"y2":{"field":"hi"}}},
{"mark":"tick","encoding":{"y":{"field":"lo","type":"quantitative","scale":{"domain":[0,2],"nice":false}}}},
{"mark":"tick","encoding":{"y":{"field":"hi","type":"quantitative","scale":{"domain":[0,2],"nice":false}}}}]}
],"spacing":4,"resolve":{"scale":{"fill":"independent"},"legend":{"fill":"independent"}}},
{"hconcat":[
{"width":210,"height":152,"title":"Arabinose","transform":[{"filter":"datum.f=='C'&&datum.s=='Arabinose'"}],
"encoding":{"x":{"field":"m","type":"ordinal","scale":{"domain":["0","2","4","6"],"paddingInner":0.4,"paddingOuter":0.4},"axis":{"title":null}},"xOffset":{"field":"t","type":"nominal","scale":{"domain":["Control","1-MCP"],"paddingInner":0.05}}},
"layer":[
{"mark":"bar","encoding":{"y":{"field":"v","type":"quantitative","scale":{"domain":[0,1.4],"nice":false},"axis":{"orient":"left","tickCount":7,"format":".1f","title":"mg·g⁻¹ AIS"}},"fill":{"field":"t","type":"nominal","scale":{"domain":["Control","1-MCP"],"range":["#ffffff","#c0c0c0"]},"legend":null}}},
{"mark":"rule","encoding":{"y":{"field":"lo","type":"quantitative","scale":{"domain":[0,1.4],"nice":false}},"y2":{"field":"hi"}}},
{"mark":"tick","encoding":{"y":{"field":"lo","type":"quantitative","scale":{"domain":[0,1.4],"nice":false}}}},
{"mark":"tick","encoding":{"y":{"field":"hi","type":"quantitative","scale":{"domain":[0,1.4],"nice":false}}}}]},
{"width":211,"height":152,"title":"Galactose","transform":[{"filter":"datum.f=='C'&&datum.s=='Galactose'"}],
"encoding":{"x":{"field":"m","type":"ordinal","scale":{"domain":["0","2","4","6"],"paddingInner":0.4,"paddingOuter":0.4},"axis":{"title":null}},"xOffset":{"field":"t","type":"nominal","scale":{"domain":["Control","1-MCP"],"paddingInner":0.05}}},
"layer":[
{"mark":"bar","encoding":{"y":{"field":"v","type":"quantitative","scale":{"domain":[0,2],"nice":false},"axis":{"orient":"right","tickCount":10,"format":".1f","title":"mg·g⁻¹ AIS","titleAngle":270,"titleBaseline":"top"}},"fill":{"field":"t","type":"nominal","scale":{"domain":["Control","1-MCP"],"range":["#ffffff","#c0c0c0"]},"legend":null}}},
{"mark":"rule","encoding":{"y":{"field":"lo","type":"quantitative","scale":{"domain":[0,2],"nice":false}},"y2":{"field":"hi"}}},
{"mark":"tick","encoding":{"y":{"field":"lo","type":"quantitative","scale":{"domain":[0,2],"nice":false}}}},
{"mark":"tick","encoding":{"y":{"field":"hi","type":"quantitative","scale":{"domain":[0,2],"nice":false}}}}]}
],"spacing":4,"resolve":{"scale":{"fill":"independent"},"legend":{"fill":"independent"}}},
{"hconcat":[
{"width":210,"height":152,"title":"Xylose","transform":[{"filter":"datum.f=='C'&&datum.s=='Xylose'"}],
"encoding":{"x":{"field":"m","type":"ordinal","scale":{"domain":["0","2","4","6"],"paddingInner":0.4,"paddingOuter":0.4},"axis":{"title":"Storage duration (month)"}},"xOffset":{"field":"t","type":"nominal","scale":{"domain":["Control","1-MCP"],"paddingInner":0.05}}},
"layer":[
{"mark":"bar","encoding":{"y":{"field":"v","type":"quantitative","scale":{"domain":[0,0.3],"nice":false},"axis":{"orient":"left","tickCount":6,"format":".2f","title":"mg·g⁻¹ AIS"}},"fill":{"field":"t","type":"nominal","scale":{"domain":["Control","1-MCP"],"range":["#ffffff","#c0c0c0"]},"legend":null}}},
{"mark":"rule","encoding":{"y":{"field":"lo","type":"quantitative","scale":{"domain":[0,0.3],"nice":false}},"y2":{"field":"hi"}}},
{"mark":"tick","encoding":{"y":{"field":"lo","type":"quantitative","scale":{"domain":[0,0.3],"nice":false}}}},
{"mark":"tick","encoding":{"y":{"field":"hi","type":"quantitative","scale":{"domain":[0,0.3],"nice":false}}}}]},
{"width":211,"height":152,"title":"Glucose","transform":[{"filter":"datum.f=='C'&&datum.s=='Glucose'"}],
"encoding":{"x":{"field":"m","type":"ordinal","scale":{"domain":["0","2","4","6"],"paddingInner":0.4,"paddingOuter":0.4},"axis":{"title":"Storage duration (month)"}},"xOffset":{"field":"t","type":"nominal","scale":{"domain":["Control","1-MCP"],"paddingInner":0.05}}},
"layer":[
{"mark":"bar","encoding":{"y":{"field":"v","type":"quantitative","scale":{"domain":[0,8],"nice":false},"axis":{"orient":"right","tickCount":4,"format":"d","title":"mg·g⁻¹ AIS","titleAngle":270,"titleBaseline":"top"}},"fill":{"field":"t","type":"nominal","scale":{"domain":["Control","1-MCP"],"range":["#ffffff","#c0c0c0"]},"legend":null}}},
{"mark":"rule","encoding":{"y":{"field":"lo","type":"quantitative","scale":{"domain":[0,8],"nice":false}},"y2":{"field":"hi"}}},
{"mark":"tick","encoding":{"y":{"field":"lo","type":"quantitative","scale":{"domain":[0,8],"nice":false}}}},
{"mark":"tick","encoding":{"y":{"field":"hi","type":"quantitative","scale":{"domain":[0,8],"nice":false}}}}]}
],"spacing":4,"resolve":{"scale":{"fill":"independent"},"legend":{"fill":"independent"}}}
]},
{"title":{"text":"4%\u00a0 KOH\u00a0 soluble\u00a0 fraction","anchor":"middle","frame":"bounds","offset":28,"dx":0,"baseline":"alphabetic","font":"Liberation Serif","fontSize":30,"fontWeight":"normal","color":"#000"},
"spacing":7,"resolve":{"scale":{"fill":"independent"},"legend":{"fill":"independent"}},
"vconcat":[
{"hconcat":[
{"width":210,"height":152,"title":"Rhamnose","transform":[{"filter":"datum.f=='K'&&datum.s=='Rhamnose'"}],
"encoding":{"x":{"field":"m","type":"ordinal","scale":{"domain":["0","2","4","6"],"paddingInner":0.4,"paddingOuter":0.4},"axis":{"title":null}},"xOffset":{"field":"t","type":"nominal","scale":{"domain":["Control","1-MCP"],"paddingInner":0.05}}},
"layer":[
{"mark":"bar","encoding":{"y":{"field":"v","type":"quantitative","scale":{"domain":[0,0.18],"nice":false},"axis":{"orient":"left","tickCount":9,"format":".2f","title":"mg·g⁻¹ AIS"}},"fill":{"field":"t","type":"nominal","scale":{"domain":["Control","1-MCP"],"range":["#ffffff","#c0c0c0"]},"legend":null}}},
{"mark":"rule","encoding":{"y":{"field":"lo","type":"quantitative","scale":{"domain":[0,0.18],"nice":false}},"y2":{"field":"hi"}}},
{"mark":"tick","encoding":{"y":{"field":"lo","type":"quantitative","scale":{"domain":[0,0.18],"nice":false}}}},
{"mark":"tick","encoding":{"y":{"field":"hi","type":"quantitative","scale":{"domain":[0,0.18],"nice":false}}}}]},
{"width":211,"height":152,"title":"Mannose","transform":[{"filter":"datum.f=='K'&&datum.s=='Mannose'"}],
"encoding":{"x":{"field":"m","type":"ordinal","scale":{"domain":["0","2","4","6"],"paddingInner":0.4,"paddingOuter":0.4},"axis":{"title":null}},"xOffset":{"field":"t","type":"nominal","scale":{"domain":["Control","1-MCP"],"paddingInner":0.05}}},
"layer":[
{"mark":"bar","encoding":{"y":{"field":"v","type":"quantitative","scale":{"domain":[0,6],"nice":false},"axis":{"orient":"right","tickCount":6,"format":"d","title":"mg·g⁻¹ AIS","titleAngle":270,"titleBaseline":"top"}},"fill":{"field":"t","type":"nominal","scale":{"domain":["Control","1-MCP"],"range":["#ffffff","#c0c0c0"]},"legend":{"title":null,"orient":"top-right"}}}},
{"mark":"rule","encoding":{"y":{"field":"lo","type":"quantitative","scale":{"domain":[0,6],"nice":false}},"y2":{"field":"hi"}}},
{"mark":"tick","encoding":{"y":{"field":"lo","type":"quantitative","scale":{"domain":[0,6],"nice":false}}}},
{"mark":"tick","encoding":{"y":{"field":"hi","type":"quantitative","scale":{"domain":[0,6],"nice":false}}}}]}
],"spacing":7,"resolve":{"scale":{"fill":"independent"},"legend":{"fill":"independent"}}},
{"hconcat":[
{"width":210,"height":152,"title":"Arabinose","transform":[{"filter":"datum.f=='K'&&datum.s=='Arabinose'"}],
"encoding":{"x":{"field":"m","type":"ordinal","scale":{"domain":["0","2","4","6"],"paddingInner":0.4,"paddingOuter":0.4},"axis":{"title":null}},"xOffset":{"field":"t","type":"nominal","scale":{"domain":["Control","1-MCP"],"paddingInner":0.05}}},
"layer":[
{"mark":"bar","encoding":{"y":{"field":"v","type":"quantitative","scale":{"domain":[0,1.4],"nice":false},"axis":{"orient":"left","tickCount":7,"format":".1f","title":"mg·g⁻¹ AIS"}},"fill":{"field":"t","type":"nominal","scale":{"domain":["Control","1-MCP"],"range":["#ffffff","#c0c0c0"]},"legend":null}}},
{"mark":"rule","encoding":{"y":{"field":"lo","type":"quantitative","scale":{"domain":[0,1.4],"nice":false}},"y2":{"field":"hi"}}},
{"mark":"tick","encoding":{"y":{"field":"lo","type":"quantitative","scale":{"domain":[0,1.4],"nice":false}}}},
{"mark":"tick","encoding":{"y":{"field":"hi","type":"quantitative","scale":{"domain":[0,1.4],"nice":false}}}}]},
{"width":211,"height":152,"title":"Galactose","transform":[{"filter":"datum.f=='K'&&datum.s=='Galactose'"}],
"encoding":{"x":{"field":"m","type":"ordinal","scale":{"domain":["0","2","4","6"],"paddingInner":0.4,"paddingOuter":0.4},"axis":{"title":null}},"xOffset":{"field":"t","type":"nominal","scale":{"domain":["Control","1-MCP"],"paddingInner":0.05}}},
"layer":[
{"mark":"bar","encoding":{"y":{"field":"v","type":"quantitative","scale":{"domain":[0,7],"nice":false},"axis":{"orient":"right","tickCount":7,"format":"d","title":"mg·g⁻¹ AIS","titleAngle":270,"titleBaseline":"top"}},"fill":{"field":"t","type":"nominal","scale":{"domain":["Control","1-MCP"],"range":["#ffffff","#c0c0c0"]},"legend":null}}},
{"mark":"rule","encoding":{"y":{"field":"lo","type":"quantitative","scale":{"domain":[0,7],"nice":false}},"y2":{"field":"hi"}}},
{"mark":"tick","encoding":{"y":{"field":"lo","type":"quantitative","scale":{"domain":[0,7],"nice":false}}}},
{"mark":"tick","encoding":{"y":{"field":"hi","type":"quantitative","scale":{"domain":[0,7],"nice":false}}}}]}
],"spacing":7,"resolve":{"scale":{"fill":"independent"},"legend":{"fill":"independent"}}},
{"hconcat":[
{"width":210,"height":152,"title":"Xylose","transform":[{"filter":"datum.f=='K'&&datum.s=='Xylose'"}],
"encoding":{"x":{"field":"m","type":"ordinal","scale":{"domain":["0","2","4","6"],"paddingInner":0.4,"paddingOuter":0.4},"axis":{"title":"Storage duration (month)"}},"xOffset":{"field":"t","type":"nominal","scale":{"domain":["Control","1-MCP"],"paddingInner":0.05}}},
"layer":[
{"mark":"bar","encoding":{"y":{"field":"v","type":"quantitative","scale":{"domain":[0,10],"nice":false},"axis":{"orient":"left","tickCount":5,"format":"d","title":"mg·g⁻¹ AIS"}},"fill":{"field":"t","type":"nominal","scale":{"domain":["Control","1-MCP"],"range":["#ffffff","#c0c0c0"]},"legend":null}}},
{"mark":"rule","encoding":{"y":{"field":"lo","type":"quantitative","scale":{"domain":[0,10],"nice":false}},"y2":{"field":"hi"}}},
{"mark":"tick","encoding":{"y":{"field":"lo","type":"quantitative","scale":{"domain":[0,10],"nice":false}}}},
{"mark":"tick","encoding":{"y":{"field":"hi","type":"quantitative","scale":{"domain":[0,10],"nice":false}}}}]},
{"width":211,"height":152,"title":"Glucose","transform":[{"filter":"datum.f=='K'&&datum.s=='Glucose'"}],
"encoding":{"x":{"field":"m","type":"ordinal","scale":{"domain":["0","2","4","6"],"paddingInner":0.4,"paddingOuter":0.4},"axis":{"title":"Storage duration (month)"}},"xOffset":{"field":"t","type":"nominal","scale":{"domain":["Control","1-MCP"],"paddingInner":0.05}}},
"layer":[
{"mark":"bar","encoding":{"y":{"field":"v","type":"quantitative","scale":{"domain":[0,25],"nice":false},"axis":{"orient":"right","tickCount":5,"format":"d","title":"mg·g⁻¹ AIS","titleAngle":270,"titleBaseline":"top"}},"fill":{"field":"t","type":"nominal","scale":{"domain":["Control","1-MCP"],"range":["#ffffff","#c0c0c0"]},"legend":null}}},
{"mark":"rule","encoding":{"y":{"field":"lo","type":"quantitative","scale":{"domain":[0,25],"nice":false}},"y2":{"field":"hi"}}},
{"mark":"tick","encoding":{"y":{"field":"lo","type":"quantitative","scale":{"domain":[0,25],"nice":false}}}},
{"mark":"tick","encoding":{"y":{"field":"hi","type":"quantitative","scale":{"domain":[0,25],"nice":false}}}}]}
],"spacing":7,"resolve":{"scale":{"fill":"independent"},"legend":{"fill":"independent"}}}
]}
],"spacing":46,"resolve":{"scale":{"fill":"independent"},"legend":{"fill":"independent"}}}
],
"config":{
"font":"Liberation Sans",
"view":{"stroke":"#555","strokeWidth":1},
"axis":{"labelFont":"Liberation Sans","labelFontSize":9,"labelFontWeight":"bold","labelColor":"#000","titleFont":"Liberation Sans","titleFontSize":9,"titleFontWeight":"bold","titleColor":"#000","domainColor":"#555","tickColor":"#555","tickSize":4,"labelPadding":2,"titlePadding":4,"grid":false},
"axisX":{"labelAngle":0,"tickSize":3,"titlePadding":12,"labelPadding":4},
"axisRight":{"titlePadding":7},
"bar":{"stroke":"#333","strokeWidth":1},
"rule":{"color":"#333","strokeWidth":1},
"tick":{"color":"#333","thickness":1,"size":6},
"title":{"anchor":"start","frame":"group","offset":-19,"dx":9,"font":"Liberation Sans","fontSize":9,"fontWeight":"bold","color":"#000"},
"legend":{"labelFont":"Liberation Sans","labelFontSize":9,"labelFontWeight":"bold","labelColor":"#000","symbolType":"M-2.1,-0.6H2.1V0.6H-2.1Z","symbolSize":121,"symbolStrokeColor":"#333","symbolStrokeWidth":1,"labelOffset":10,"rowPadding":0,"padding":0,"offset":8}
}
}
